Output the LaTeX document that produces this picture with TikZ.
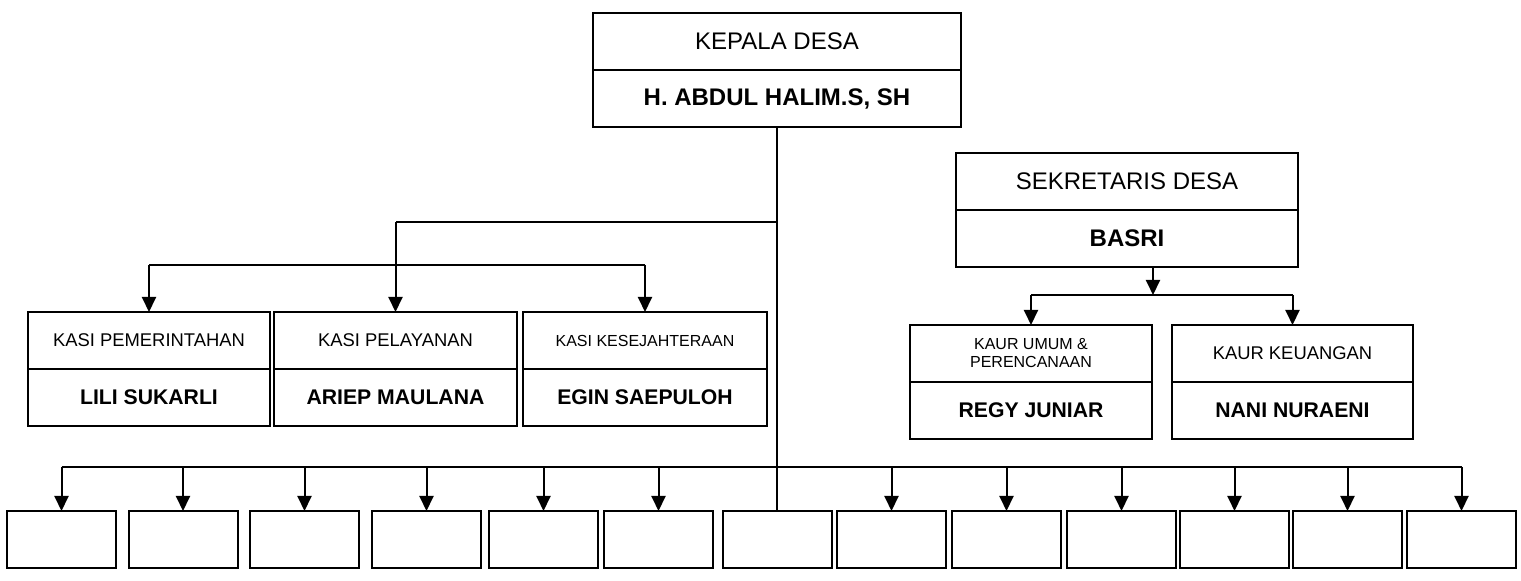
\documentclass[tikz,border=0pt]{standalone}
\usepackage{fontspec}
\setmainfont{Liberation Sans}
\usetikzlibrary{arrows.meta,positioning}
\tikzset{>={Triangle[width=7pt,length=7.5pt]},
	jab/.style={draw,line width=1pt,inner sep=0pt,outer sep=0pt,align=center,anchor=north west,minimum width=#1,minimum height=28.5pt},
	nm/.style={draw,line width=1pt,inner sep=0pt,outer sep=0pt,align=center,minimum width=#1,minimum height=28.5pt,font=\fontsize{10.6}{12}\selectfont\bfseries},
	kosong/.style={draw,line width=1pt,inner sep=0pt,outer sep=0pt,minimum width=54.5pt,minimum height=28.5pt}}
\newcommand{\besar}{\fontsize{12}{14}\selectfont}
\newcommand{\sedang}{\fontsize{9.2}{11}\selectfont}
\newcommand{\kecil}{\fontsize{8}{9}\selectfont}
\begin{document}
\begin{tikzpicture}[x=0.5pt,y=-0.5pt,line width=1pt]
	\useasboundingbox (0,0) rectangle (1521,581);
	\node[jab=184pt,font=\besar] (kades) at (593,13) {KEPALA DESA};
	\node[nm=184pt,below=0pt of kades,font=\besar\bfseries] (kadesnm) {H. ABDUL HALIM.S, SH};
	
	\node[jab=121pt,font=\sedang] (kasia) at (28,312) {KASI PEMERINTAHAN};
	\node[nm=121pt,below=0pt of kasia] (kasianm) {LILI SUKARLI};
	\node[jab=121.5pt,font=\sedang] (kasib) at (274,312) {KASI PELAYANAN};
	\node[nm=121.5pt,below=0pt of kasib] (kasibnm) {ARIEP MAULANA};
	\node[jab=122pt,font=\kecil] (kasic) at (523,312) {KASI KESEJAHTERAAN};
	\node[nm=122pt,below=0pt of kasic] (kasicnm) {EGIN SAEPULOH};
	
	\node[jab=171pt,font=\besar] (sekdes) at (956,153) {SEKRETARIS DESA};
	\node[nm=171pt,below=0pt of sekdes,font=\besar\bfseries] (sekdesnm) {BASRI};
	\node[jab=121pt,font=\kecil] (kaura) at (910,325) {KAUR UMUM \&\\PERENCANAAN};
	\node[nm=121pt,below=0pt of kaura] (kauranm) {REGY JUNIAR};
	\node[jab=120.5pt,font=\sedang] (kaurb) at (1172,325) {KAUR KEUANGAN};
	\node[nm=120.5pt,below=0pt of kaurb] (kaurbnm) {NANI NURAENI};
	
	\foreach \i/\x in {1/61.5,2/183,3/304.5,4/426.5,5/543.5,6/658.5,7/777,8/891.5,9/1006.5,10/1121.5,11/1234.5,12/1347.5,13/1461.5}
		\node[kosong] (b\i) at (\x,539.5) {};
	
	\coordinate (kasitop) at (0,222); \coordinate (kasibar) at (0,265);
	\coordinate (sekout) at (1153,0); \coordinate (kaurbar) at (0,295);
	\coordinate (bar) at (0,467);
	
	\draw (kadesnm) -- (b7);
	\draw (kadesnm |- kasitop) -- (kasib |- kasitop); \draw[->] (kasib |- kasitop) -- (kasib);
	\draw (kasia |- kasibar) -- (kasic |- kasibar);
	\draw[->] (kasia |- kasibar) -- (kasia); \draw[->] (kasic |- kasibar) -- (kasic);
	
	\draw[->] (sekout |- sekdesnm.south) -- (sekout |- kaurbar);
	\draw (kaura |- kaurbar) -- (kaurb |- kaurbar);
	\draw[->] (kaura |- kaurbar) -- (kaura); \draw[->] (kaurb |- kaurbar) -- (kaurb);
	
	\draw (b1 |- bar) -- (b13 |- bar);
	\foreach \i in {1,2,3,4,5,6,8,9,10,11,12,13} \draw[->] (b\i |- bar) -- (b\i);
\end{tikzpicture}
\end{document}
